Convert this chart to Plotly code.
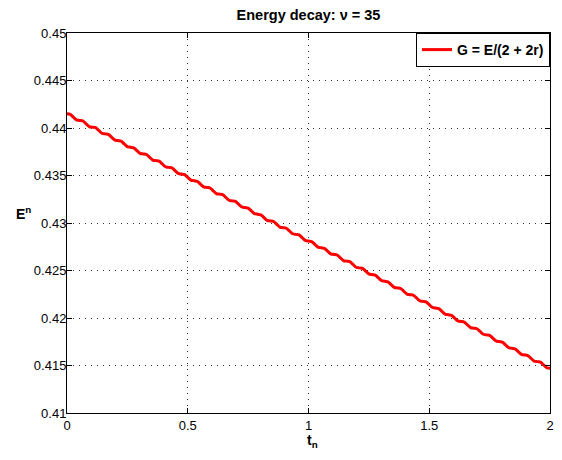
import numpy as np
import plotly.graph_objects as go

# energy values E^n (4 samples per wiggle, 38 wiggles over t in [0, 2])
energy = [
    0.441500, 0.441440, 0.441150, 0.440860,
    0.440795, 0.440735, 0.440445, 0.440155,
    0.440089, 0.440029, 0.439739, 0.439449,
    0.439384, 0.439324, 0.439034, 0.438744,
    0.438679, 0.438619, 0.438329, 0.438039,
    0.437974, 0.437914, 0.437624, 0.437334,
    0.437268, 0.437208, 0.436918, 0.436628,
    0.436563, 0.436503, 0.436213, 0.435923,
    0.435858, 0.435798, 0.435508, 0.435218,
    0.435152, 0.435092, 0.434802, 0.434512,
    0.434447, 0.434387, 0.434097, 0.433807,
    0.433742, 0.433682, 0.433392, 0.433102,
    0.433037, 0.432977, 0.432687, 0.432397,
    0.432331, 0.432271, 0.431981, 0.431691,
    0.431626, 0.431566, 0.431276, 0.430986,
    0.430921, 0.430861, 0.430571, 0.430281,
    0.430216, 0.430156, 0.429866, 0.429576,
    0.429510, 0.429450, 0.429160, 0.428870,
    0.428805, 0.428745, 0.428455, 0.428165,
    0.428100, 0.428040, 0.427750, 0.427460,
    0.427394, 0.427334, 0.427044, 0.426754,
    0.426689, 0.426629, 0.426339, 0.426049,
    0.425984, 0.425924, 0.425634, 0.425344,
    0.425279, 0.425219, 0.424929, 0.424639,
    0.424573, 0.424513, 0.424223, 0.423933,
    0.423868, 0.423808, 0.423518, 0.423228,
    0.423163, 0.423103, 0.422813, 0.422523,
    0.422457, 0.422397, 0.422107, 0.421817,
    0.421752, 0.421692, 0.421402, 0.421112,
    0.421047, 0.420987, 0.420697, 0.420407,
    0.420342, 0.420282, 0.419992, 0.419702,
    0.419636, 0.419576, 0.419286, 0.418996,
    0.418931, 0.418871, 0.418581, 0.418291,
    0.418226, 0.418166, 0.417876, 0.417586,
    0.417521, 0.417461, 0.417171, 0.416881,
    0.416815, 0.416755, 0.416465, 0.416175,
    0.416110, 0.416050, 0.415760, 0.415470,
    0.415405, 0.415345, 0.415055, 0.414765,
    0.414699,
]
t_n = np.linspace(0, 2, len(energy))

x_ticks = [0, 0.5, 1, 1.5, 2]
x_labels = ["0", "0.5", "1", "1.5", "2"]
y_ticks = [0.41, 0.415, 0.42, 0.425, 0.43, 0.435, 0.44, 0.445, 0.45]
y_labels = ["0.41", "0.415", "0.42", "0.425", "0.43", "0.435", "0.44", "0.445", "0.45"]

FONT = "Liberation Sans, Arial, Helvetica, sans-serif"
L, R, T, B = 67, 12, 33, 47
W, H = 562, 460
pw, ph = W - L - R, H - T - B

fig = go.Figure()
fig.add_trace(go.Scatter(
    x=t_n, y=energy, mode="lines", name="<b>G = E/(2 + 2r)</b>",
    line=dict(color="#ff0000", width=3.0, shape="spline", smoothing=1.0),
))

axis_common = dict(
    showline=True, linecolor="black", linewidth=1, mirror="ticks",
    ticks="inside", ticklen=5, tickcolor="black", tickwidth=1,
    showgrid=True, gridcolor="rgba(0,0,0,0.8)", griddash="1px,5px", gridwidth=1,
    zeroline=False, automargin=False,
    tickfont=dict(family=FONT, size=13, color="black"),
)

fig.update_xaxes(range=[0, 2], tickvals=x_ticks, ticktext=x_labels, **axis_common)
fig.update_yaxes(range=[0.41, 0.45], tickvals=y_ticks, ticktext=y_labels,
                 ticklabelstandoff=-3, **axis_common)

fig.update_layout(
    width=W, height=H,
    margin=dict(l=L, r=R, t=T, b=B),
    paper_bgcolor="white", plot_bgcolor="white",
    font=dict(family=FONT, size=13, color="black"),
    title=dict(text="<b>Energy decay: \u03bd = 35</b>", x=(L + pw / 2) / W, xanchor="center",
               y=1 - 15 / H, yanchor="middle", font=dict(family=FONT, size=14.5, color="black")),
    showlegend=True,
    legend=dict(x=1, y=1, xanchor="right", yanchor="top", bgcolor="white",
                bordercolor="black", borderwidth=1,
                font=dict(family=FONT, size=14, color="black")),
    annotations=[
        dict(text="<b>E<sup>n</sup></b>", x=(23 - L) / pw, y=(H - B - 213) / ph,
             xanchor="center", yanchor="middle",
             xref="paper", yref="paper", showarrow=False,
             font=dict(family=FONT, size=14, color="black")),
        dict(text="<b>t<sub>n</sub></b>", x=(312 - L) / pw, y=(H - B - 441) / ph,
             xanchor="center", yanchor="middle",
             xref="paper", yref="paper", showarrow=False,
             font=dict(family=FONT, size=14, color="black")),
    ],
)

fig.write_html("out.html", config={"displayModeBar": False},
               post_script="document.body.style.margin='0';document.body.style.overflow='hidden';")
